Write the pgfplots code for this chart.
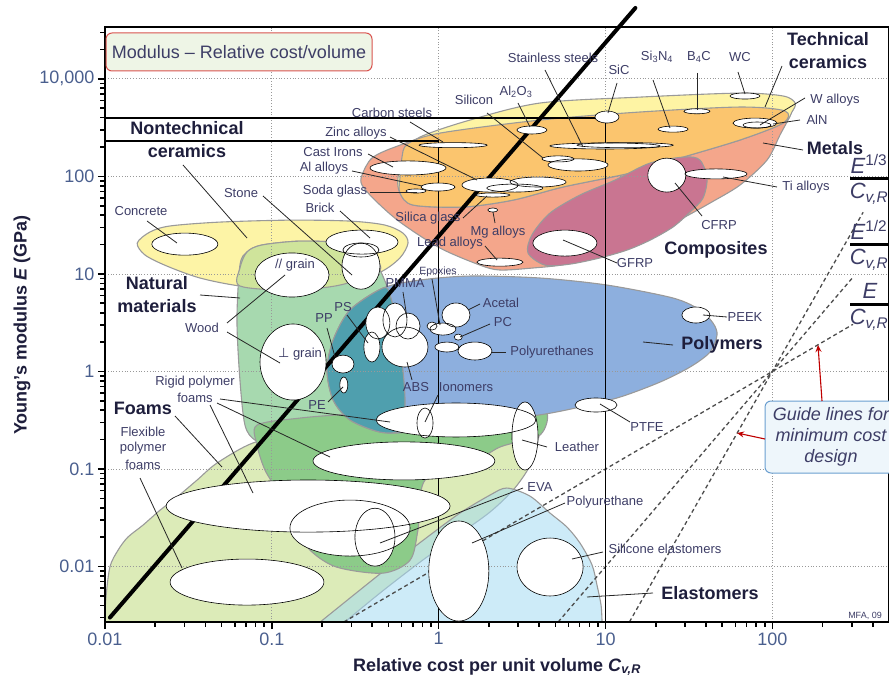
\documentclass[border=0pt]{standalone}
\usepackage{fontspec}
\setmainfont{Liberation Sans}
\newfontfamily\dejavu{DejaVu Sans}
\usepackage{pgfplots}
\usepackage{pgfplotstable}
\pgfplotsset{compat=1.18}
\usetikzlibrary{arrows.meta}

\definecolor{labc}{HTML}{3D3D66}
\definecolor{bldc}{HTML}{1E1E3C}
\definecolor{tickc}{HTML}{4A5F8E}
\definecolor{limec}{HTML}{DCEBB8}
\definecolor{elastc}{HTML}{A4DBF2}
\definecolor{nontc}{HTML}{FDF4A6}
\definecolor{natc}{HTML}{A7D9AF}
\definecolor{olivec}{HTML}{CFE49B}
\definecolor{rigidc}{HTML}{8CCB89}
\definecolor{polyc}{HTML}{8DAFDE}
\definecolor{tealc}{HTML}{4F9FAE}
\definecolor{salmonc}{HTML}{F4A68B}
\definecolor{ceryc}{HTML}{FEF4A4}
\definecolor{orangec}{HTML}{FBC56E}
\definecolor{compc}{HTML}{C97591}
\definecolor{titlefill}{HTML}{EEF5E6}
\definecolor{titledraw}{HTML}{D9534F}
\definecolor{guidefill}{HTML}{EEF6FB}
\definecolor{guidedraw}{HTML}{6A9FD0}
\definecolor{envc}{HTML}{9A9A9A}

\pgfplotstableread{
x y rx ry
68.5 667 0.090 0.031
35.3 465 0.078 0.026
25.4 305 0.090 0.031
10.2 406 0.072 0.062
78.7 352 0.132 0.051
80.9 336 0.084 0.031
9.93 205 0.330 0.031
13.1 209 0.288 0.026
3.62 299 0.090 0.041
5.19 151 0.096 0.031
6.84 131 0.180 0.062
1.22 209 0.204 0.026
0.655 122 0.228 0.072
0.991 77.8 0.102 0.041
0.731 70.8 0.060 0.021
2.03 81.5 0.168 0.072
3.94 87.5 0.168 0.051
2.86 75.9 0.168 0.041
2.11 64.4 0.102 0.021
2.11 45.2 0.030 0.021
2.33 13.2 0.138 0.041
5.71 20.7 0.192 0.133
23.3 103 0.114 0.174
45.9 106 0.186 0.051
0.0301 20.2 0.198 0.113
0.347 21.2 0.216 0.123
0.342 17.6 0.108 0.072
0.342 12.0 0.114 0.236
0.132 9.75 0.222 0.226
0.134 1.25 0.198 0.390
0.267 1.19 0.066 0.092
0.270 0.726 0.024 0.082
0.398 1.78 0.048 0.154
0.432 3.14 0.072 0.164
0.547 3.37 0.072 0.174
0.655 2.92 0.072 0.133
0.628 1.78 0.138 0.205
0.912 2.92 0.030 0.041
1.06 2.72 0.078 0.062
1.27 3.79 0.084 0.123
1.31 2.25 0.024 0.031
1.12 1.78 0.072 0.051
1.65 1.62 0.102 0.092
34.8 3.79 0.084 0.082
8.77 0.453 0.126 0.072
1.27 0.318 0.479 0.174
0.828 0.296 0.048 0.154
3.29 0.218 0.078 0.349
0.619 0.121 0.545 0.195
0.165 0.0417 0.851 0.267
0.294 0.0248 0.360 0.287
0.415 0.0200 0.120 0.297
0.0710 0.00693 0.461 0.236
1.32 0.00899 0.180 0.513
4.65 0.00989 0.198 0.297
}\bubbles

\pgfdeclareplotmark{bubf}{\pgfpathellipse{\pgfpointorigin}{\pgfpoint{\rx*166.85pt}{0pt}}{\pgfpoint{0pt}{\ry*97.54pt}}\pgfusepathqfill}
\pgfdeclareplotmark{bubs}{\pgfpathellipse{\pgfpointorigin}{\pgfpoint{\rx*166.85pt}{0pt}}{\pgfpoint{0pt}{\ry*97.54pt}}\pgfusepathqstroke}

\pgfplotsset{
 region/.style={draw=envc, line width=1.1pt},
 gridl/.style={black!40, dotted, line width=0.8pt},
 guide/.style={black!70, dash pattern=on 4pt off 3pt, line width=1.3pt},
}
\tikzset{
 lab/.style={font=\fontsize{13}{15}\selectfont, text=labc, inner sep=0pt},
 blab/.style={font=\fontsize{18}{23}\selectfont\bfseries, text=bldc, inner sep=0pt, align=center},
 ld/.style={black!85, line width=0.8pt},
}

\begin{document}
\begin{tikzpicture}
\begin{axis}[
 at={(0pt,0pt)}, anchor=south west,
 scale only axis, width=784pt, height=595pt,
 xmode=log, ymode=log, xmin=0.01, xmax=500, ymin=0.0027, ymax=3400,
 clip=false, axis on top,
 xtick={0.01,0.1,1,10,100}, xticklabels={0.01,0.1,1,10,100},
 ytick={0.01,0.1,1,10,100,1000}, yticklabels={0.01,0.1,1,10,100,{10,000}},
 minor xtick={0.02,0.03,0.04,0.05,0.06,0.07,0.08,0.09,0.2,0.3,0.4,0.5,0.6,0.7,0.8,0.9,2,3,4,5,6,7,8,9,20,30,40,50,60,70,80,90,200,300,400},
 minor ytick={0.003,0.004,0.005,0.006,0.007,0.008,0.009,0.02,0.03,0.04,0.05,0.06,0.07,0.08,0.09,0.2,0.3,0.4,0.5,0.6,0.7,0.8,0.9,2,3,4,5,6,7,8,9,20,30,40,50,60,70,80,90,200,300,400,500,600,700,800,900,2000,3000},
 tick pos=left, tick align=outside,
 major tick length=7pt, minor tick length=4.5pt,
 tick style={black, line width=1.6pt},
 axis line style={black, line width=1.2pt},
 ticklabel style={font=\fontsize{18}{18}\selectfont, text=tickc},
]
% flexible polymer foams
\addplot[region, fill=limec, smooth] coordinates {(0.01,0.0027) (0.0101,0.00453) (0.0107,0.00989) (0.0120,0.0148) (0.0137,0.0200) (0.0169,0.0266) (0.0214,0.0379) (0.0270,0.0515) (0.0356,0.0769) (0.0469,0.115) (0.0771,0.185) (0.148,0.239) (0.445,0.318) (1.17,0.357) (3.07,0.384) (4.34,0.333) (4.05,0.239) (3.62,0.118) (2.86,0.0638) (2.03,0.0362) (1.25,0.0200) (0.773,0.0111) (0.445,0.00535) (0.274,0.0027)} -- cycle;
% elastomers
\addplot[region, fill=elastc, fill opacity=0.55, smooth] coordinates {(0.195,0.0027) (0.337,0.00574) (0.586,0.0122) (0.887,0.0210) (1.34,0.0353) (2.03,0.0540) (2.56,0.0638) (3.52,0.0528) (4.65,0.0353) (5.87,0.0254) (7.03,0.0174) (8.30,0.0104) (8.89,0.00644) (9.40,0.00403) (9.53,0.0027)} -- cycle;
% nontechnical ceramics
\addplot[region, fill=nontc, smooth cycle] coordinates {(0.0156,20.7) (0.0186,26.9) (0.0245,31.0) (0.0489,34.0) (0.129,35.6) (0.294,34.8) (0.476,31.7) (0.611,26.2) (0.655,20.7) (0.586,14.6) (0.445,10.4) (0.256,7.69) (0.129,6.84) (0.0644,7.52) (0.0371,9.08) (0.0236,12.0) (0.0174,15.6)};
% natural materials
\addplot[region, fill=natc, smooth cycle] coordinates {(0.0644,12.3) (0.0710,16.8) (0.0873,19.8) (0.148,21.7) (0.274,20.7) (0.377,16.8) (0.445,10.96) (0.511,6.07) (0.570,2.66) (0.611,1.03) (0.628,0.452) (0.586,0.251) (0.387,0.198) (0.195,0.176) (0.104,0.176) (0.0793,0.198) (0.0690,0.282) (0.0644,0.815) (0.0618,3.37)};
\addplot[region, fill=olivec, smooth cycle] coordinates {(0.0644,11.5) (0.0710,16.8) (0.0873,19.8) (0.148,21.7) (0.274,20.7) (0.377,16.8) (0.445,10.96) (0.256,7.69) (0.129,6.84) (0.0644,7.52)};
% rigid polymer foams
\addplot[region, fill=rigidc, smooth cycle] coordinates {(0.0815,0.282) (0.148,0.333) (0.294,0.366) (0.773,0.402) (2.33,0.452) (4.34,0.402) (4.05,0.223) (2.33,0.168) (1.54,0.110) (0.828,0.0769) (0.751,0.0236) (0.673,0.0116) (0.463,0.00855) (0.245,0.00986) (0.169,0.0148) (0.134,0.0279) (0.112,0.0540) (0.0910,0.0975) (0.0815,0.176)};
% polymers
\addplot[region, fill=polyc, smooth cycle] coordinates {(0.463,7.16) (0.773,8.65) (1.54,9.51) (4.05,9.08) (10.2,7.69) (25.4,5.66) (36.8,4.27) (44.1,3.13) (46.6,2.37) (42.3,1.58) (32.1,1.11) (21.2,0.778) (12.2,0.546) (7.03,0.432) (4.34,0.366) (2.33,0.318) (1.17,0.282) (0.673,0.239) (0.445,0.239) (0.294,0.318) (0.233,0.509) (0.214,1.03) (0.233,2.10) (0.294,4.27)};
\addplot[region, fill=tealc, smooth cycle] coordinates {(0.463,7.16) (0.511,6.07) (0.570,2.66) (0.611,1.03) (0.628,0.452) (0.586,0.251) (0.445,0.239) (0.294,0.318) (0.233,0.509) (0.214,1.03) (0.233,2.10) (0.294,4.27)};
% metals
\addplot[region, fill=salmonc, smooth cycle] coordinates {(0.347,103) (0.398,154) (0.547,200) (1.02,278) (4.05,378) (16.1,457) (64.0,514) (122,479) (128,426) (111,265) (92.9,147) (64.0,81.5) (42.3,53.3) (29.1,37.4) (18.5,25.1) (12.2,18.4) (8.07,14.6) (5.33,12.3) (3.67,11.5) (2.33,10.96) (1.77,12.3) (1.02,18.4) (0.586,34.0) (0.415,57.1) (0.347,81.5)};
% technical ceramics
\addplot[region, fill=ceryc, smooth cycle] coordinates {(0.570,96.2) (0.628,178) (0.773,253) (1.54,378) (4.05,565) (16.1,650) (64.0,714) (116,667) (137,565) (131,457) (116,352) (64.0,236) (25.4,147) (14.0,108) (5.56,77.8) (2.79,57.1) (1.40,48.5) (0.702,50.8) (0.586,67.5)};
\addplot[region, fill=orangec, smooth cycle] coordinates {(0.586,96.2) (0.600,150) (0.650,215) (1.02,278) (4.05,378) (16.1,457) (64.0,514) (119,468) (116,352) (64.0,236) (25.4,147) (14.0,108) (5.56,77.8) (2.79,57.1) (1.40,48.5) (0.702,50.8) (0.586,67.5)};
% composites
\addplot[region, fill=compc, smooth cycle] coordinates {(3.43,16.4) (3.62,25.1) (4.65,42.1) (7.03,64.4) (11.4,91.6) (18.5,137) (29.9,158) (36.8,147) (40.6,96.2) (38.4,60.0) (32.1,43.1) (25.4,30.3) (18.5,22.2) (13.5,17.6) (9.27,14.6) (6.12,12.6) (4.34,12.3)};
% grid
\addplot[gridl] coordinates {(0.1,0.0027) (0.1,3400)};
\addplot[gridl] coordinates {(1,0.0027) (1,3400)};
\addplot[gridl] coordinates {(10,0.0027) (10,3400)};
\addplot[gridl] coordinates {(100,0.0027) (100,3400)};
\addplot[gridl] coordinates {(0.01,0.01) (500,0.01)};
\addplot[gridl] coordinates {(0.01,0.1) (500,0.1)};
\addplot[gridl] coordinates {(0.01,1) (500,1)};
\addplot[gridl] coordinates {(0.01,10) (500,10)};
\addplot[gridl] coordinates {(0.01,100) (500,100)};
\addplot[gridl] coordinates {(0.01,1000) (500,1000)};
% guide lines
\addplot[guide] coordinates {(0.27,0.0027) (304,3.04)};
\addplot[guide] coordinates {(5.2,0.0027) (304,9.24)};
\addplot[guide] coordinates {(13.9,0.0027) (350,42.9)};
% bubbles
\addplot[scatter, only marks, mark=bubf, scatter/use mapped color={draw=none, fill=white},
 visualization depends on={\thisrow{rx}\as\rx},
 visualization depends on={\thisrow{ry}\as\ry}] table[x=x, y=y] {\bubbles};
\addplot[scatter, only marks, mark=bubs, scatter/use mapped color={draw=black, fill=none}, mark options={line width=0.6pt},
 visualization depends on={\thisrow{rx}\as\rx},
 visualization depends on={\thisrow{ry}\as\ry}] table[x=x, y=y] {\bubbles};
% selection lines
\addplot[black, line width=1.5pt] coordinates {(0.01,230) (1,230) (1,0.0027)};
\addplot[black, line width=1.5pt] coordinates {(0.01,396) (10,396) (10,0.0027)};
\addplot[black, line width=4pt, line cap=round] coordinates {(0.0107,0.0030) (15.1,5330)};
\end{axis}

\begin{scope}[shift={(-105pt,622pt)}, x=1pt, y=-1pt]
\node[draw=titledraw, fill=titlefill, rounded corners=6pt, line width=1pt, minimum width=266pt, minimum height=38pt, font=\fontsize{18}{18}\selectfont, text=labc] at (239,52) {Modulus – Relative cost/volume};
% leaders
\draw[ld] (545,70)--(583,147);
\draw[ld] (617,83)--(608,113);
\draw[ld] (653,80)--(670,128);
\draw[ld] (697,73)--(697,110);
\draw[ld] (738,72)--(745,94);
\draw[ld] (782,66)--(765,107);
\draw[ld] (805,98)--(760,125);
\draw[ld] (800,120)--(773,124);
\draw[ld] (803,150)--(763,143);
\draw[ld] (777,187)--(723,177);
\draw[ld] (702,216)--(675,183);
\draw[ld] (617,263)--(563,240);
\draw[ld] (410,122)--(443,142);
\draw[ld] (390,137)--(477,180);
\draw[ld] (368,154)--(393,167);
\draw[ld] (352,171)--(422,186);
\draw[ld] (370,192)--(417,192);
\draw[ld] (487,113)--(543,158);
\draw[ld] (518,103)--(530,127);
\draw[ld] (263,196)--(352,275);
\draw[ld] (340,211)--(370,238);
\draw[ld] (147,221)--(177,243);
\draw[ld] (183,165)--(247,238);
\draw[ld] (463,218)--(487,196);
\draw[ld] (495,223)--(493,212);
\draw[ld] (485,246)--(497,260);
\draw[ld] (432,279)--(440,325);
\draw[ld] (403,292)--(407,318);
\draw[ld] (347,315)--(368,343);
\draw[ld] (327,328)--(335,357);
\draw[ld] (480,304)--(468,310);
\draw[ld] (490,324)--(460,337);
\draw[ld] (492,352)--(506,352);
\draw[ld] (727,317)--(703,315);
\draw[ld] (673,345)--(643,342);
\draw[ld] (412,380)--(407,362);
\draw[ld] (438,395)--(425,422);
\draw[ld] (328,402)--(343,387);
\draw[ld] (630,422)--(600,404);
\draw[ld] (547,447)--(522,440);
\draw[ld] (523,488)--(380,543);
\draw[ld] (565,503)--(472,543);
\draw[ld] (603,552)--(572,559);
\draw[ld] (653,593)--(587,597);
\draw[ld] (227,323)--(285,275);
\draw[ld] (227,332)--(280,363);
\draw[ld] (200,295)--(240,298);
\draw[ld] (210,405)--(253,493);
\draw[ld] (217,403)--(330,457);
\draw[ld] (220,399)--(390,422);
\draw[ld] (175,416)--(222,467);
\draw[ld] (140,478)--(182,568);
% small labels
\node[lab] at (553,58) {Stainless steels};
\node[lab] at (619,70) {SiC};
\node[lab] at (657,57) {Si\textsubscript{3}N\textsubscript{4}};
\node[lab] at (699,57) {B\textsubscript{4}C};
\node[lab] at (740,57) {WC};
\node[lab] at (835,100) {W alloys};
\node[lab] at (817,120) {AlN};
\node[lab] at (806,187) {Ti alloys};
\node[lab] at (719,225) {CFRP};
\node[lab] at (635,263) {GFRP};
\node[lab] at (392,113) {Carbon steels};
\node[lab] at (356,133) {Zinc alloys};
\node[lab] at (333,152) {Cast Irons};
\node[lab] at (324,168) {Al alloys};
\node[lab] at (335,191) {Soda glass};
\node[lab] at (474,100) {Silicon};
\node[lab] at (516,92) {Al\textsubscript{2}O\textsubscript{3}};
\node[lab] at (241,193) {Stone};
\node[lab] at (320,208) {Brick};
\node[lab] at (141,211) {Concrete};
\node[lab] at (428,218) {Silica glass};
\node[lab] at (498,232) {Mg alloys};
\node[lab] at (450,243) {Lead alloys};
\node[lab, font=\fontsize{10.5}{12}\selectfont] at (438,272) {Epoxies};
\node[lab] at (405,283) {PMMA};
\node[lab] at (343,307) {PS};
\node[lab] at (324,318) {PP};
\node[lab] at (501,303) {Acetal};
\node[lab] at (503,322) {PC};
\node[lab] at (552,352) {Polyurethanes};
\node[lab] at (745,317) {PEEK};
\node[lab] at (416,387) {ABS};
\node[lab] at (466,387) {Ionomers};
\node[lab] at (317,405) {PE};
\node[lab] at (647,427) {PTFE};
\node[lab] at (577,447) {Leather};
\node[lab] at (540,487) {EVA};
\node[lab] at (605,502) {Polyurethane};
\node[lab] at (665,549) {Silicone elastomers};
\node[lab] at (202,328) {Wood};
\node[lab] at (295,265) {// grain};
\node[lab] at (300,354) {{\dejavu ⊥} grain};
\node[lab] at (195,382) {Rigid polymer};
\node[lab] at (195,398) {foams};
\node[lab] at (143,432) {Flexible};
\node[lab] at (143,448) {polymer};
\node[lab] at (143,465) {foams};
\node[lab, font=\fontsize{9}{10}\selectfont] at (865,616) {MFA, 09};
% bold labels
\node[blab] at (828,51) {Technical\\ceramics};
\node[blab] at (835,148) {Metals};
\node[blab] at (716,250) {Composites};
\node[blab] at (722,345) {Polymers};
\node[blab] at (710,593) {Elastomers};
\node[blab] at (187,140) {Nontechnical\\ceramics};
\node[blab] at (157,295) {Natural\\materials};
\node[blab] at (143,408) {Foams};
% guide line labels
\draw[black, line width=3pt] (850,179)--(895,179);
\draw[black, line width=3pt] (850,245)--(895,245);
\draw[black, line width=3pt] (850,305)--(895,305);
\node[font=\fontsize{22}{22}\selectfont\itshape, text=labc] at (869,164) {E\textsuperscript{\upshape 1/3}};
\node[font=\fontsize{22}{22}\selectfont\itshape, text=labc] at (869,194) {C\textsubscript{v,R}};
\node[font=\fontsize{22}{22}\selectfont\itshape, text=labc] at (869,230) {E\textsuperscript{\upshape 1/2}};
\node[font=\fontsize{22}{22}\selectfont\itshape, text=labc] at (869,260) {C\textsubscript{v,R}};
\node[font=\fontsize{22}{22}\selectfont\itshape, text=labc] at (870,291) {E};
\node[font=\fontsize{22}{22}\selectfont\itshape, text=labc] at (869,320) {C\textsubscript{v,R}};
\node[draw=guidedraw, fill=guidefill, rounded corners=6pt, line width=1pt, minimum width=132pt, minimum height=72pt, align=center, font=\fontsize{18}{21}\selectfont\itshape, text=labc] at (831,437) {Guide lines for\\minimum cost\\design};
\draw[red!75!black, line width=1.1pt, -{Stealth[length=7pt,width=6pt]}] (822,401)--(818,345);
\draw[red!75!black, line width=1.1pt, -{Stealth[length=7pt,width=6pt]}] (765,439)--(737,433);
% axis labels
\node[rotate=90, font=\fontsize{18}{18}\selectfont\bfseries, text=bldc] at (22,325) {Young's modulus \textit{E} (GPa)};
\node[font=\fontsize{18}{18}\selectfont\bfseries, text=bldc] at (497,667) {Relative cost per unit volume \textit{C}\textsubscript{\textit{v,R}}};
\end{scope}
\pgfresetboundingbox
\useasboundingbox (-105pt,-67pt) rectangle (784pt,622pt);
\end{tikzpicture}
\end{document}
